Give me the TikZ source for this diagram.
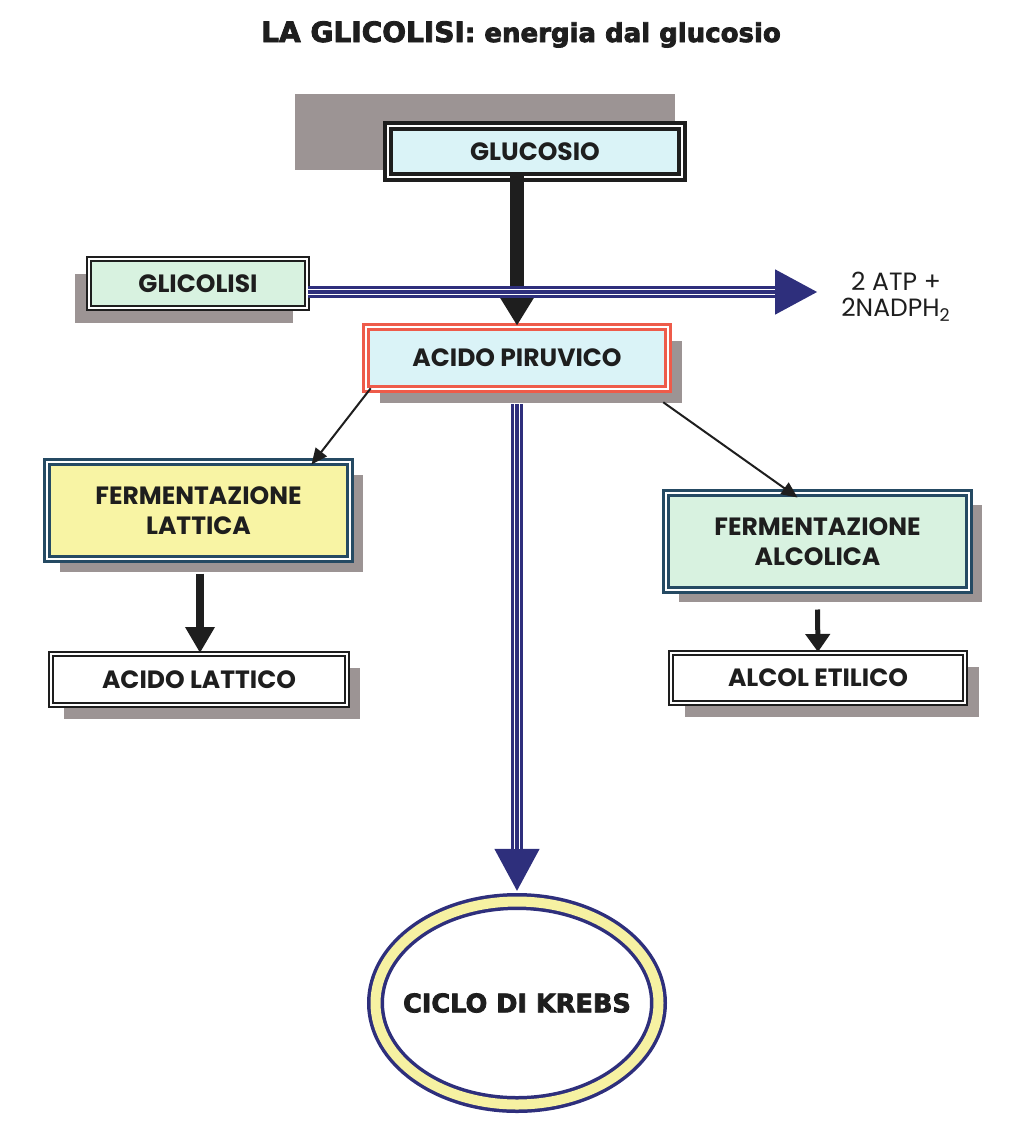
\documentclass[tikz,border=0pt]{standalone}
\usepackage{fontspec}
\usepackage{xcolor}
\usepackage{tikz}
\usetikzlibrary{arrows.meta,shadows,shapes.geometric}
\newfontfamily\gothic{Poppins}
\newfontfamily\heavy[FakeBold=3]{DejaVu Sans Bold}
\definecolor{shadowc}{HTML}{9C9494}
\definecolor{cyanfill}{HTML}{DAF3F7}
\definecolor{mintfill}{HTML}{D8F2E0}
\definecolor{lemonfill}{HTML}{F8F4A4}
\definecolor{tealline}{HTML}{254A63}
\definecolor{redline}{HTML}{EE5B4A}
\definecolor{navy}{HTML}{2E2F7C}
\definecolor{ink}{HTML}{1E1E1E}
\definecolor{ringfill}{HTML}{F6F1A2}

\begin{document}
\begin{tikzpicture}[x=0.5pt, y=-0.5pt,
    box/.style={rectangle, text=ink, inner sep=0pt, align=center, double=white,
      font=\gothic\bfseries\fontsize{12.5}{15}\selectfont},
    shade/.style 2 args={general shadow={fill=shadowc, shadow xshift=#1, shadow yshift=#2}},
    blackarrow/.style={draw=ink, line width=#1},
    thinarrow/.style={draw=ink, line width=1pt, -{Triangle[length=8pt, width=7pt]}},
    triple/.style={draw=navy, line width=6pt, -{Triangle[length=21.5pt, width=21pt]},
      postaction={draw=white, line width=3.4pt, -, shorten >=21.5pt},
      postaction={draw=navy, line width=1.8pt, -, shorten >=21.5pt}}]
  \useasboundingbox (0,0) rectangle (1024,1140);

  \node[text=ink, anchor=base, font=\heavy\fontsize{13}{15}\selectfont] (title) at (521,42)
    {{\fontsize{14}{15}\selectfont LA GLICOLISI}: energia dal glucosio};

  \fill[shadowc] (295,94) rectangle (675,170);
  \node[box, draw=ink, fill=cyanfill, line width=2pt, double distance=1pt,
    minimum width=147pt, minimum height=25.5pt] (glucosio) at (535,151.5) {GLUCOSIO};

  \node[box, shade={-7pt}{-7.5pt}, draw=ink, fill=mintfill, line width=1pt, double distance=1pt,
    minimum width=109pt, minimum height=24.5pt] (glicolisi) at (198,283.5) {GLICOLISI};

  \node[box, shade={7pt}{-7pt}, draw=redline, fill=cyanfill, line width=1.5pt, double distance=1.2pt,
    minimum width=150.8pt, minimum height=30.8pt] (piruvico) at (517,358) {ACIDO PIRUVICO};

  \node[box, shade={6.5pt}{-6.5pt}, draw=tealline, fill=lemonfill, line width=1.5pt, double distance=1pt,
    minimum width=151.5pt, minimum height=48.5pt] (lattica) at (198.5,510.5) {FERMENTAZIONE\\LATTICA};

  \node[box, shade={6.5pt}{-6pt}, draw=tealline, fill=mintfill, line width=1.5pt, double distance=1pt,
    minimum width=151.5pt, minimum height=48.5pt] (alcolica) at (817.5,541.5) {FERMENTAZIONE\\ALCOLICA};

  \node[box, shade={6.5pt}{-7pt}, draw=ink, fill=white, line width=1pt, double distance=1pt,
    minimum width=148pt, minimum height=25.5pt] (lattico) at (199,679.5) {ACIDO LATTICO};

  \node[box, shade={7pt}{-7pt}, draw=ink, fill=white, line width=1pt, double distance=1pt,
    minimum width=147pt, minimum height=25pt] (etilico) at (818,678) {ALCOL ETILICO};

  \node[ellipse, draw=navy, fill=white, line width=1.75pt, double=ringfill, double distance=5pt,
    minimum width=141.5pt, minimum height=101.5pt, inner sep=0pt,
    label={[text=ink, font=\heavy\fontsize{12.8}{15}\selectfont]center:CICLO DI KREBS}] (krebs) at (517,1003) {};

  \node[text=ink, align=center, font=\gothic\fontsize{12.5}{13}\selectfont] (atp) at (896,297)
    {2 ATP +\\2NADPH\textsubscript{2}};
  \coordinate (atptip) at (818,292);

  \draw[blackarrow=7pt, -{Triangle[length=17.5pt, width=20pt]}] ([yshift=2pt]glucosio.south -| piruvico.north) -- (piruvico.north);
  \draw[triple] (glicolisi.east |- atptip) -- (atptip);
  \draw[triple] ([yshift=-7pt]piruvico.south) -- ([yshift=4pt]krebs.north);
  \draw[thinarrow] ([xshift=3pt,yshift=1pt]piruvico.south west) -- ([xshift=-20pt,yshift=-2pt]lattica.north east);
  \draw[thinarrow] ([xshift=-3pt,yshift=-6pt]piruvico.south east) -- ([xshift=-10pt,yshift=-3pt]alcolica.north);
  \draw[blackarrow=4pt, -{Triangle[length=13pt, width=14pt]}] ([xshift=0.75pt,yshift=-6.5pt]lattica.south) -- ([xshift=0.75pt]lattica.south |- lattico.north);
  \draw[blackarrow=2.5pt, -{Triangle[length=9pt, width=12pt]}] ([yshift=-9pt]alcolica.south) -- (etilico.north);
\end{tikzpicture}
\end{document}
